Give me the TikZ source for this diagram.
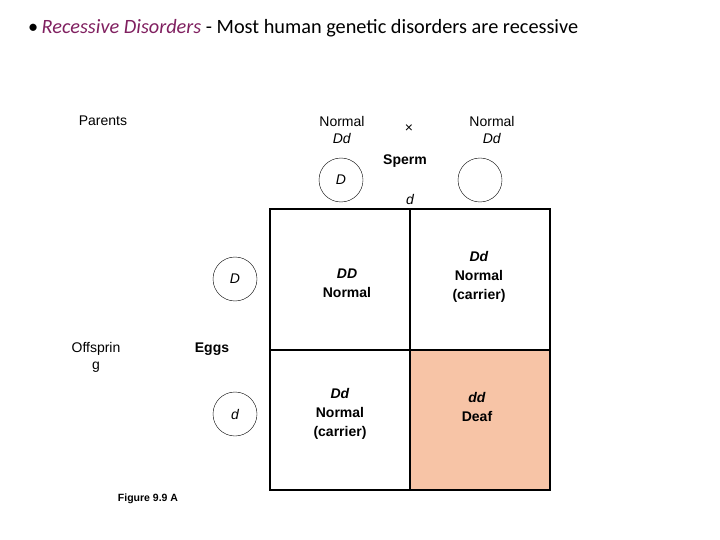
\documentclass[tikz,border=0pt]{standalone}
\usepackage{fontspec}
\setmainfont{Liberation Sans}
\newfontfamily\calib{Carlito}
\definecolor{purp}{RGB}{128,32,96}
\definecolor{peach}{RGB}{247,196,166}
\begin{document}
\begin{tikzpicture}[x=1pt,y=-1pt,
  lbl/.style={font=\fontsize{14}{17}\selectfont,align=center,inner sep=0pt},
  cell/.style={font=\bfseries\fontsize{14}{19}\selectfont,align=center,inner sep=0pt},
  gam/.style={draw,circle,minimum size=44,inner sep=0pt,font=\itshape\fontsize{14}{16}\selectfont},
  cellline/.style={line width=1.2pt}]
\useasboundingbox (0,0) rectangle (720,540);
\node[anchor=west,inner sep=0pt,font=\calib\fontsize{20.3}{24}\selectfont] (title) at (28,28) {•\,\textcolor{purp}{\itshape Recessive Disorders} - Most human genetic disorders are recessive};
\node[lbl] (par) at (103,121) {Parents};
\node[lbl] (p1) at (342,130) {Normal\\\textit{Dd}};
\node[lbl] (x) at (409,129) {×};
\node[lbl] (p2) at (492,130) {Normal\\\textit{Dd}};
\node[lbl,font=\bfseries\fontsize{14}{16}\selectfont] (sp) at (405,161) {Sperm};
\node[gam] (sD) at (341,180) {D};
\node[gam] (sd) at (480,180) {};
\node[lbl,font=\itshape\fontsize{14}{16}\selectfont] (dl) at (410,199) {d};
\node[gam] (eD) at (235,279) {D};
\node[gam] (ed) at (235,414) {d};
\node[lbl,font=\bfseries\fontsize{14}{16}\selectfont] (eggs) at (212,349) {Eggs};
\node[lbl] (off) at (96,357) {Offsprin\\g};
\node[lbl,font=\bfseries\fontsize{10.5}{12}\selectfont] (fig) at (148,499) {Figure 9.9 A};
\fill[peach] (410,350) rectangle (550,490);
\draw[cellline] (270,209) -- (550,209) -- (550,490) -- (270,490) -- cycle;
\draw[cellline] (410,209) -- (410,490);
\draw[cellline] (270,350) -- (550,350);
\node[cell] (c1) at (347,283) {\textit{DD}\\Normal};
\node[cell] (c2) at (479,277) {\textit{Dd}\\Normal\\(carrier)};
\node[cell] (c3) at (340,414) {\textit{Dd}\\Normal\\(carrier)};
\node[cell] (c4) at (477,407) {\textit{dd}\\Deaf};
\end{tikzpicture}
\end{document}
